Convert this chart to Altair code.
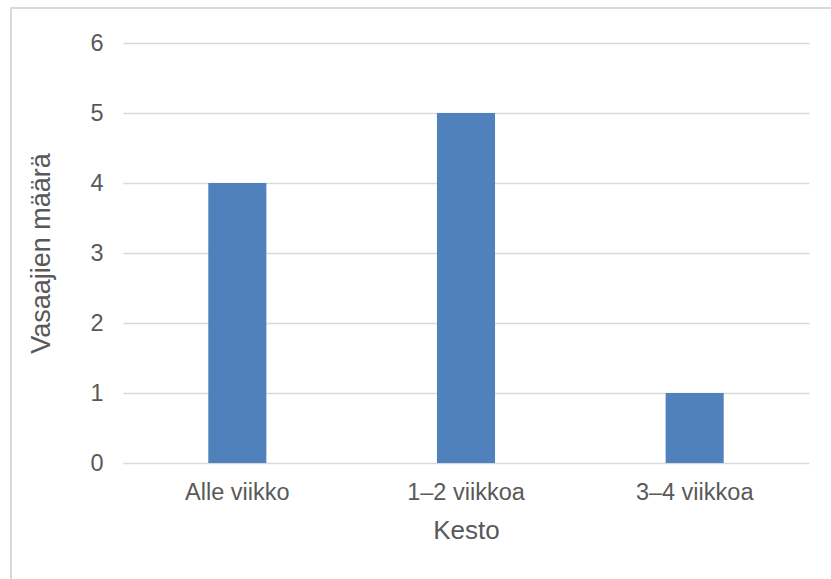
import altair as alt
import pandas as pd

# Duration categories and number of respondents
categories = ["Alle viikko", "1–2 viikkoa", "3–4 viikkoa"]
counts = [4, 5, 1]

df = pd.DataFrame({"Kesto": categories, "Vastaajat": counts})

FONT = "Liberation Sans"
TEXT = "#595959"
GRID = "#d9d9d9"

bars = alt.Chart(df).mark_bar(color="#4f81bd").encode(
    x=alt.X(
        "Kesto:N",
        sort=categories,
        title="Kesto",
        scale=alt.Scale(paddingInner=0.746, paddingOuter=0.373),
        axis=alt.Axis(
            labelAngle=0,
            ticks=False,
            domain=False,
            labelPadding=17,
            titlePadding=14,
            labelFontSize=23.5,
            titleFontSize=26,
        ),
    ),
    y=alt.Y(
        "Vastaajat:Q",
        title="Vasaajien määrä",
        scale=alt.Scale(domain=[0, 6]),
        axis=alt.Axis(
            values=[0, 1, 2, 3, 4, 5, 6],
            ticks=False,
            domain=False,
            gridColor=GRID,
            gridWidth=1.5,
            labelPadding=20,
            titlePadding=34,
            labelFontSize=23.5,
            titleFontSize=27,
        ),
    ),
)

# Outer chart frame
frame = alt.Chart(df).mark_rect(
    fill=None, stroke=GRID, strokeWidth=2, clip=False
).encode(
    x=alt.value(-112),
    x2=alt.value(720),
    y=alt.value(-35),
    y2=alt.value(600),
)

chart = (
    alt.layer(frame, bars)
    .properties(
        width=686,
        height=420,
        autosize=alt.AutoSizeParams(type="none"),
        padding={"left": 123, "top": 43, "right": 22, "bottom": 116},
        background="white",
    )
    .configure_view(stroke=None)
    .configure_axis(
        labelFont=FONT,
        titleFont=FONT,
        labelColor=TEXT,
        titleColor=TEXT,
        titleFontWeight="normal",
    )
)

chart.save("out.html", embed_options={"renderer": "svg", "actions": False})
